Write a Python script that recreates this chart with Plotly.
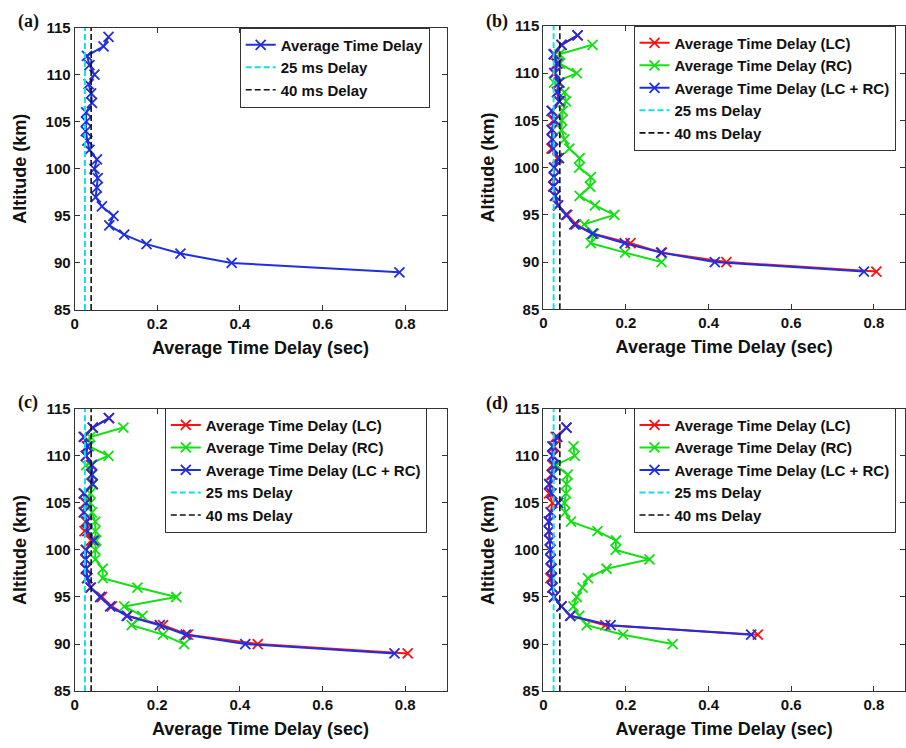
import plotly.graph_objects as go

# ---------------- data ----------------
# Panel (a): single series, altitude 114 -> 89 km
alt_a = [114, 113, 112, 111, 110, 109, 108, 107, 106, 105, 104, 103, 102, 101,
         100, 99, 98, 97, 96, 95, 94, 93, 92, 91, 90, 89]
delay_a = [0.082, 0.070, 0.030, 0.036, 0.048, 0.034, 0.040, 0.042, 0.028, 0.028,
           0.027, 0.031, 0.036, 0.054, 0.048, 0.056, 0.054, 0.051, 0.066, 0.094,
           0.084, 0.120, 0.174, 0.256, 0.380, 0.786]

# Panel (b)
alt_b_lc = [114, 113, 112, 111, 110, 109, 108, 107, 106, 105, 104, 103, 102, 101,
            100, 99, 98, 97, 96, 95, 94, 93, 92, 91, 90, 89]
delay_b_lc = [0.083, 0.044, 0.027, 0.032, 0.026, 0.037, 0.033, 0.038, 0.022, 0.024,
              0.022, 0.021, 0.020, 0.034, 0.027, 0.025, 0.024, 0.028, 0.035, 0.058,
              0.079, 0.121, 0.211, 0.287, 0.443, 0.806]
alt_b_rc = [113, 112, 111, 110, 109, 108, 107, 106, 105, 104, 103, 102, 101, 100,
            99, 98, 97, 96, 95, 94, 93, 92, 91, 90]
delay_b_rc = [0.119, 0.039, 0.040, 0.081, 0.026, 0.051, 0.055, 0.047, 0.045, 0.044,
              0.051, 0.063, 0.088, 0.087, 0.115, 0.113, 0.088, 0.125, 0.172, 0.099,
              0.122, 0.115, 0.198, 0.286]
alt_b_both = alt_b_lc
delay_b_both = [0.083, 0.044, 0.025, 0.034, 0.028, 0.039, 0.034, 0.039, 0.020, 0.028,
                0.020, 0.022, 0.024, 0.038, 0.026, 0.026, 0.025, 0.029, 0.036, 0.055,
                0.075, 0.119, 0.197, 0.285, 0.415, 0.776]

# Panel (c)
alt_c_lc = [114, 113, 112, 111, 110, 109, 108, 107, 106, 105, 104, 103, 102, 101,
            100, 99, 98, 97, 96, 95, 94, 93, 92, 91, 90, 89]
delay_c_lc = [0.083, 0.044, 0.024, 0.030, 0.027, 0.040, 0.041, 0.043, 0.023, 0.026,
              0.022, 0.027, 0.024, 0.040, 0.027, 0.026, 0.027, 0.030, 0.038, 0.066,
              0.090, 0.128, 0.214, 0.274, 0.443, 0.806]
alt_c_rc = [113, 112, 111, 110, 109, 108, 107, 106, 105, 104, 103, 102, 101, 100,
            99, 98, 97, 96, 95, 94, 93, 92, 91, 90]
delay_c_rc = [0.118, 0.038, 0.035, 0.082, 0.028, 0.042, 0.044, 0.038, 0.038, 0.042,
              0.050, 0.050, 0.052, 0.050, 0.050, 0.068, 0.068, 0.152, 0.246, 0.120,
              0.164, 0.138, 0.214, 0.265]
alt_c_both = alt_c_lc
delay_c_both = [0.083, 0.044, 0.022, 0.031, 0.028, 0.042, 0.042, 0.044, 0.022, 0.028,
                0.023, 0.030, 0.031, 0.046, 0.028, 0.027, 0.028, 0.031, 0.039, 0.062,
                0.086, 0.126, 0.206, 0.269, 0.413, 0.774]

# Panel (d)
alt_d_lc = [113, 112, 111, 110, 109, 108, 107, 106, 105, 104, 103, 102, 101, 100,
            99, 98, 97, 96, 95, 94, 93, 92, 91]
delay_d_lc = [0.056, 0.030, 0.026, 0.024, 0.022, 0.020, 0.016, 0.014, 0.022, 0.018,
              0.014, 0.014, 0.016, 0.017, 0.018, 0.019, 0.017, 0.022, 0.026, 0.044,
              0.066, 0.150, 0.519]
alt_d_rc = [111, 110, 109, 108, 107, 106, 105, 104, 103, 102, 101, 100, 99, 98,
            97, 96, 95, 94, 93, 92, 91, 90]
delay_d_rc = [0.073, 0.076, 0.030, 0.059, 0.056, 0.055, 0.051, 0.053, 0.067, 0.131,
              0.176, 0.175, 0.257, 0.153, 0.108, 0.095, 0.081, 0.073, 0.087, 0.105,
              0.193, 0.313]
alt_d_both = alt_d_lc
delay_d_both = [0.056, 0.034, 0.022, 0.022, 0.026, 0.022, 0.014, 0.020, 0.036, 0.018,
                0.013, 0.014, 0.016, 0.017, 0.018, 0.020, 0.021, 0.022, 0.026, 0.044,
                0.065, 0.163, 0.503]

# reference delays (sec) and altitude span
ref_25ms = 0.025
ref_40ms = 0.040
alt_span = [85, 115]

panel_labels = ["(a)", "(b)", "(c)", "(d)"]
x_ticks = [0, 0.2, 0.4, 0.6, 0.8]
x_tick_text = ["0", "0.2", "0.4", "0.6", "0.8"]
y_ticks = [85, 90, 95, 100, 105, 110, 115]

# ---------------- style ----------------
W, H = 906, 748
RED = "#ff1010"
GREEN = "#14e014"
BLUE = "#1f2fe0"
CYAN = "#10e0e8"
BLACK = "#111111"
FONT = "Arial, Liberation Sans, sans-serif"

fig = go.Figure()


def add_series(x, y, color, name, ax, legend):
    fig.add_trace(go.Scatter(
        x=x, y=y, mode="lines+markers", name=name,
        line=dict(color=color, width=2),
        marker=dict(symbol="x-thin-open", size=10, color=color,
                    line=dict(color=color, width=1.8)),
        xaxis="x" + ax, yaxis="y" + ax, legend=legend))


def add_refs(ax, legend):
    fig.add_trace(go.Scatter(
        x=[ref_25ms, ref_25ms], y=alt_span, mode="lines", name="25 ms Delay",
        line=dict(color=CYAN, width=2, dash="6px,3px"),
        xaxis="x" + ax, yaxis="y" + ax, legend=legend))
    fig.add_trace(go.Scatter(
        x=[ref_40ms, ref_40ms], y=alt_span, mode="lines", name="40 ms Delay",
        line=dict(color=BLACK, width=1.6, dash="6px,3px"),
        xaxis="x" + ax, yaxis="y" + ax, legend=legend))


# (a)
add_series(delay_a, alt_a, BLUE, "Average Time Delay", "", "legend")
add_refs("", "legend")
# (b)
add_series(delay_b_lc, alt_b_lc, RED, "Average Time Delay (LC)", "2", "legend2")
add_series(delay_b_rc, alt_b_rc, GREEN, "Average Time Delay (RC)", "2", "legend2")
add_series(delay_b_both, alt_b_both, BLUE, "Average Time Delay (LC + RC)", "2", "legend2")
add_refs("2", "legend2")
# (c)
add_series(delay_c_lc, alt_c_lc, RED, "Average Time Delay (LC)", "3", "legend3")
add_series(delay_c_rc, alt_c_rc, GREEN, "Average Time Delay (RC)", "3", "legend3")
add_series(delay_c_both, alt_c_both, BLUE, "Average Time Delay (LC + RC)", "3", "legend3")
add_refs("3", "legend3")
# (d)
add_series(delay_d_lc, alt_d_lc, RED, "Average Time Delay (LC)", "4", "legend4")
add_series(delay_d_rc, alt_d_rc, GREEN, "Average Time Delay (RC)", "4", "legend4")
add_series(delay_d_both, alt_d_both, BLUE, "Average Time Delay (LC + RC)", "4", "legend4")
add_refs("4", "legend4")

# pixel geometry of plot areas: (left, right, top, bottom, xmax)
boxes = {
    "": (71, 445, 19, 308, 0.9),
    "2": (542.3, 906, 17.3, 307.3, (906 - 542.3) / 415.5),
    "3": (71, 445, 409, 698, 0.9),
    "4": (542.3, 906, 409, 698, (906 - 542.3) / 415.5),
}

axis_common = dict(
    showline=True, linecolor="#333333", linewidth=1, mirror="ticks",
    ticks="inside", ticklen=5, tickcolor="#333333", showgrid=False,
    zeroline=False, tickfont=dict(family=FONT, size=15, color="#111111", weight="bold"),
)

layout = dict(width=W, height=H, margin=dict(l=0, r=0, t=0, b=0),
              paper_bgcolor="white", plot_bgcolor="white", showlegend=True)

for key, (l, r, t, b, xmax) in boxes.items():
    xa = dict(axis_common)
    xa.update(domain=[l / W, min(r / W, 1.0)], range=[0, xmax], anchor="y" + key,
              tickvals=x_ticks, ticktext=x_tick_text,
              title=dict(text="Average Time Delay (sec)", standoff=10,
                         font=dict(family=FONT, size=18, color="#111111", weight="bold")))
    ya = dict(axis_common)
    ya.update(domain=[1 - b / H, 1 - t / H], range=[85, 115], anchor="x" + key,
              tickvals=y_ticks,
              title=dict(text="Altitude (km)", standoff=14,
                         font=dict(family=FONT, size=18, color="#111111", weight="bold")))
    layout["xaxis" + key] = xa
    layout["yaxis" + key] = ya

legend_pos = {"legend": (237, 19), "legend2": (633, 17), "legend3": (161.7, 408), "legend4": (633, 408)}
for name, (lx, ly) in legend_pos.items():
    layout[name] = dict(x=lx / W, y=1 - ly / H, xanchor="left", yanchor="top",
                        xref="paper", yref="paper",
                        bgcolor="white", bordercolor="#333333", borderwidth=1,
                        font=dict(family=FONT, size=15, color="#111111", weight="bold"),
                        tracegroupgap=0, itemwidth=30)

fig.update_layout(**layout)

label_pos = [(12, 13), (483, 13), (12, 403), (483, 404)]
for txt, (px, py) in zip(panel_labels, label_pos):
    fig.add_annotation(text="<b>" + txt + "</b>", x=px / W, y=1 - py / H,
                       xref="paper", yref="paper", xanchor="left", yanchor="middle",
                       showarrow=False,
                       font=dict(family="Liberation Serif, Times New Roman, serif",
                                 size=18, color="#111111"))

# remove the browser's default body margin so the figure sits at the page origin
fig.write_html("out.html",
               config={"displayModeBar": False},
               post_script="document.body.style.margin='0';document.body.style.overflow='hidden';")
